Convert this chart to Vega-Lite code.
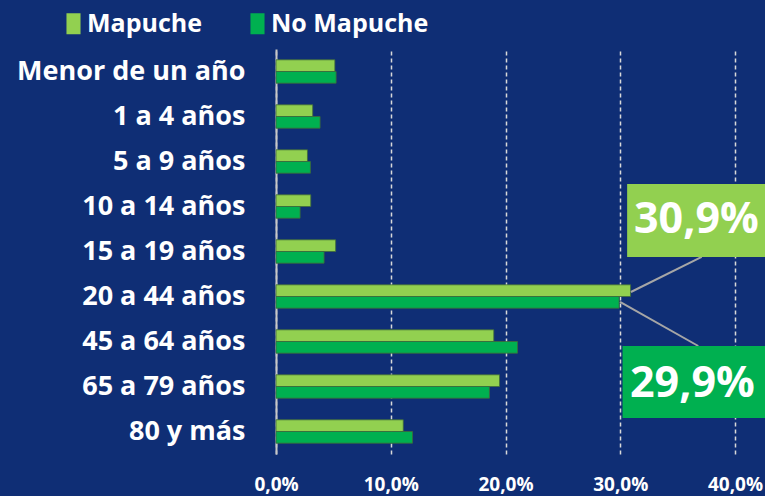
{
  "$schema": "https://vega.github.io/schema/vega-lite/v6.json",
  "autosize": {"type": "none"},
  "padding": {"left": 276, "top": 49, "right": 30, "bottom": 42},
  "width": 459,
  "height": 405,
  "background": "#0f2e75",
  "config": {
    "view": {"stroke": null},
    "font": "Open Sans"
  },
  "datasets": {
    "bars": [
      {"edad": "Menor de un año", "grupo": "Mapuche", "valor": 0.0513},
      {"edad": "Menor de un año", "grupo": "No Mapuche", "valor": 0.0524},
      {"edad": "1 a 4 años", "grupo": "Mapuche", "valor": 0.032},
      {"edad": "1 a 4 años", "grupo": "No Mapuche", "valor": 0.0384},
      {"edad": "5 a 9 años", "grupo": "Mapuche", "valor": 0.0274},
      {"edad": "5 a 9 años", "grupo": "No Mapuche", "valor": 0.030},
      {"edad": "10 a 14 años", "grupo": "Mapuche", "valor": 0.0303},
      {"edad": "10 a 14 años", "grupo": "No Mapuche", "valor": 0.021},
      {"edad": "15 a 19 años", "grupo": "Mapuche", "valor": 0.052},
      {"edad": "15 a 19 años", "grupo": "No Mapuche", "valor": 0.0419},
      {"edad": "20 a 44 años", "grupo": "Mapuche", "valor": 0.309},
      {"edad": "20 a 44 años", "grupo": "No Mapuche", "valor": 0.299},
      {"edad": "45 a 64 años", "grupo": "Mapuche", "valor": 0.1898},
      {"edad": "45 a 64 años", "grupo": "No Mapuche", "valor": 0.2105},
      {"edad": "65 a 79 años", "grupo": "Mapuche", "valor": 0.1948},
      {"edad": "65 a 79 años", "grupo": "No Mapuche", "valor": 0.186},
      {"edad": "80 y más", "grupo": "Mapuche", "valor": 0.1109},
      {"edad": "80 y más", "grupo": "No Mapuche", "valor": 0.119}
    ],
    "boxes": [
      {"grupo": "Mapuche", "x1": 0.306, "x2": 0.44, "y1": 3.0, "y2": 4.62, "tx": 0.3120, "ty": 3.81, "label": "30,9%"},
      {"grupo": "No Mapuche", "x1": 0.302, "x2": 0.44, "y1": 6.6, "y2": 8.2, "tx": 0.3085, "ty": 7.44, "label": "29,9%"}
    ],
    "leaders": [
      {"x1": 0.3093, "x2": 0.371, "y1": 5.4, "y2": 4.62},
      {"x1": 0.2998, "x2": 0.368, "y1": 5.62, "y2": 6.6}
    ]
  },
  "layer": [
    {
      "data": {"name": "bars"},
      "mark": {"type": "bar", "stroke": "#3f6a3a", "strokeWidth": 0.8},
      "encoding": {
        "y": {
          "field": "edad", "type": "nominal", "sort": null,
          "scale": {"paddingInner": 0.48, "paddingOuter": 0.24},
          "axis": {
            "title": null, "ticks": false, "labelPadding": 31,
            "labelColor": "white", "labelFont": "Open Sans", "labelFontWeight": "bold", "labelFontSize": 27,
            "domainColor": "#c8c8c8", "domainWidth": 2, "labelLimit": 300
          }
        },
        "yOffset": {"field": "grupo", "type": "nominal", "sort": ["Mapuche", "No Mapuche"]},
        "x": {
          "field": "valor", "type": "quantitative",
          "scale": {"domain": [0, 0.4], "nice": false},
          "axis": {
            "title": null, "values": [0, 0.1, 0.2, 0.3, 0.4],
            "labelExpr": "replace(format(datum.value, '.1%'), '.', ',')",
            "labelColor": "white", "labelFont": "Open Sans", "labelFontWeight": "bold", "labelFontSize": 19,
            "labelBaseline": "alphabetic", "labelPadding": 36, "labelFlush": false, "domain": false, "ticks": false,
            "grid": true, "gridColor": "#d9d9d9", "gridDash": [4, 3], "gridWidth": 1.5
          }
        },
        "color": {
          "field": "grupo", "type": "nominal",
          "scale": {"domain": ["Mapuche", "No Mapuche"], "range": ["#92d050", "#00b050"]},
          "legend": {
            "title": null, "orient": "none", "direction": "horizontal",
            "legendX": -215, "legendY": -38, "padding": 0,
            "symbolType": "M-0.67,-1L0.67,-1L0.67,1L-0.67,1Z", "symbolSize": 441, "symbolOpacity": 1, "symbolStrokeWidth": 0,
            "labelColor": "white", "labelFont": "Open Sans", "labelFontWeight": "bold", "labelFontSize": 25,
            "labelLimit": 400, "columnPadding": 43, "labelOffset": 1
          }
        }
      }
    },
    {
      "data": {"name": "leaders"},
      "mark": {"type": "rule", "color": "#a6a6a6", "strokeWidth": 2},
      "encoding": {
        "x": {"field": "x1", "type": "quantitative", "scale": {"domain": [0, 0.4], "nice": false}},
        "x2": {"field": "x2"},
        "y": {"field": "y1", "type": "quantitative", "scale": {"domain": [0, 9], "reverse": true, "nice": false}, "axis": null},
        "y2": {"field": "y2"}
      }
    },
    {
      "data": {"name": "boxes"},
      "mark": {"type": "rect"},
      "encoding": {
        "x": {"field": "x1", "type": "quantitative", "scale": {"domain": [0, 0.4], "nice": false}},
        "x2": {"field": "x2"},
        "y": {"field": "y1", "type": "quantitative", "scale": {"domain": [0, 9], "reverse": true, "nice": false}, "axis": null},
        "y2": {"field": "y2"},
        "color": {"field": "grupo", "type": "nominal", "legend": null}
      }
    },
    {
      "data": {"name": "boxes"},
      "mark": {"type": "text", "align": "left", "baseline": "middle", "color": "white", "font": "Open Sans", "fontWeight": "bold", "fontSize": 43},
      "encoding": {
        "x": {"field": "tx", "type": "quantitative", "scale": {"domain": [0, 0.4], "nice": false}},
        "y": {"field": "ty", "type": "quantitative", "scale": {"domain": [0, 9], "reverse": true, "nice": false}, "axis": null},
        "text": {"field": "label"}
      }
    }
  ],
  "resolve": {"scale": {"y": "independent"}}
}
